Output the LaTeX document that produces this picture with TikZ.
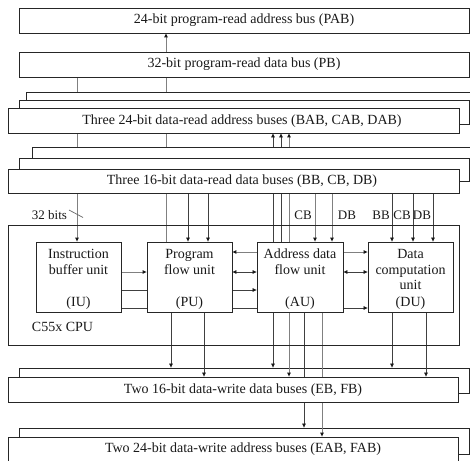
\documentclass[tikz,border=0pt]{standalone}
\usepackage{fontspec}
\setmainfont{Liberation Serif}
\usetikzlibrary{arrows.meta}
\pgfdeclarelayer{bottom}
\pgfdeclarelayer{wires}
\pgfsetlayers{bottom,wires,main}
\tikzset{
  box/.style={draw=black!85, line width=0.8pt, fill=white, inner sep=0pt},
  txt/.style={inner sep=0pt, font=\fontsize{14}{16}\selectfont, text=black!90, align=center},
  lbl/.style={inner sep=0pt, font=\fontsize{13}{15}\selectfont, text=black!90},
  wire/.style={draw=black!75, line width=0.7pt},
  gwire/.style={draw=black!50, line width=0.9pt},
  tip/.style={-{Triangle[length=4pt,width=3.5pt,color=black!90]}},
  dtip/.style={{Triangle[length=4pt,width=3.5pt,color=black!90]}-{Triangle[length=4pt,width=3.5pt,color=black!90]}},
}
\begin{document}
\begin{tikzpicture}[x=1pt,y=-1pt]
\useasboundingbox (0,0) rectangle (470,460);
\begin{pgfonlayer}{bottom}
\fill[white] (0,0) rectangle (470,460);
\end{pgfonlayer}
% column and row coordinates
\foreach \c in {77,166,171,188,204,208,273,281,289,304,315,322,332,392,413,426,433}
  \coordinate (c\c) at (\c,0);
\foreach \r in {252,272,290,308}
  \coordinate (r\r) at (0,\r);
% program buses
\node[box, minimum width=450pt, minimum height=25pt] (pab) at (244,20.5) {};
\node[txt] (pabt) at (244,20.5) {24-bit program-read address bus (PAB)};
\node[box, minimum width=450pt, minimum height=25pt] (pb) at (244,64.5) {};
\node[txt] (pbt) at (244,64.5) {32-bit program-read data bus (PB)};
% data-read address buses
\node[box, minimum width=460pt, minimum height=24pt] (ar3) at (256,104) {};
\node[box, minimum width=450pt, minimum height=24pt] (ar2) at (244,112) {};
\node[box, minimum width=451pt, minimum height=25pt] (ar1) at (233.5,120.5) {};
\node[txt] (art) at (242,121) {Three 24-bit data-read address buses (BAB, CAB, DAB)};
% data-read data buses
\node[box, minimum width=460pt, minimum height=24pt] (dr3) at (262,159) {};
\node[box, minimum width=450pt, minimum height=23pt] (dr2) at (244,169.5) {};
\node[box, minimum width=451pt, minimum height=24pt] (dr1) at (233.5,181) {};
\node[txt] (drt) at (242,181) {Three 16-bit data-read data buses (BB, CB, DB)};
% write buses
\begin{pgfonlayer}{bottom}
\node[box, minimum width=450pt, minimum height=25pt] (wd2) at (244,380.5) {};
\node[box, minimum width=450pt, minimum height=26pt] (wa2) at (244,441) {};
\end{pgfonlayer}
\node[box, minimum width=450pt, minimum height=25pt] (wd1) at (233,389.5) {};
\node[txt] (wdt) at (243,390) {Two 16-bit data-write data buses (EB, FB)};
\node[box, minimum width=450pt, minimum height=26pt] (wa1) at (233,450) {};
\node[txt] (wat) at (243,449) {Two 24-bit data-write address buses (EAB, FAB)};
% CPU
\node[draw=black!85, line width=0.8pt, inner sep=0pt, minimum width=451pt, minimum height=120pt] (cpu) at (233.5,285) {};
\node[lbl, font=\fontsize{14}{16}\selectfont] (cput) at (62.5,327) {C55x CPU};
\node[box, minimum width=85pt, minimum height=70pt] (iu) at (78.5,277) {};
\node[box, minimum width=85pt, minimum height=70pt] (pu) at (189.5,277) {};
\node[box, minimum width=86pt, minimum height=70pt] (au) at (300,277) {};
\node[box, minimum width=85pt, minimum height=70pt] (du) at (410.5,277) {};
\node[txt] (iut) at (78.5,262) {Instruction\\buffer unit};
\node[txt] (iub) at (78.5,303) {(IU)};
\node[txt] (put) at (189.5,262) {Program\\flow unit};
\node[txt] (pub) at (189.5,303) {(PU)};
\node[txt] (aut) at (300,262) {Address data\\flow unit};
\node[txt] (aub) at (300,303) {(AU)};
\node[txt, font=\fontsize{14}{15.5}\selectfont] (dut) at (410.5,269.5) {Data\\computation\\unit};
\node[txt] (dub) at (410.5,303) {(DU)};
% labels
\node[lbl] (bits) at (49.5,215) {32 bits};
\coordinate (s1) at (69,210);
\coordinate (s2) at (83,217.5);
\draw[black!60, line width=0.7pt] (s1) -- (s2);
\node[lbl] (lcb1) at (303,215) {CB};
\node[lbl] (ldb1) at (347,215) {DB};
\node[lbl] (lbb2) at (381,215) {BB};
\node[lbl] (lcb2) at (402,215) {CB};
\node[lbl] (ldb2) at (422,215) {DB};
% wires
\begin{pgfonlayer}{wires}
\draw[gwire, tip] (c77 |- pb.south) -- (c77 |- iu.north);
\draw[gwire, tip] (c166 |- pu.north) -- (c166 |- pab.south);
\draw[wire, tip] (c188 |- dr1.south) -- (c188 |- pu.north);
\draw[wire, tip] (c208 |- dr1.south) -- (c208 |- pu.north);
\draw[wire, tip] (c273 |- au.north) -- (c273 |- ar1.south);
\draw[wire, tip] (c281 |- au.north) -- (c281 |- ar1.south);
\draw[gwire, tip] (c289 |- au.north) -- (c289 |- ar1.south);
\draw[gwire, tip] (c315 |- dr1.south) -- (c315 |- au.north);
\draw[gwire, tip] (c332 |- dr1.south) -- (c332 |- au.north);
\draw[wire, tip] (c392 |- dr1.south) -- (c392 |- du.north);
\draw[wire, tip] (c413 |- dr1.south) -- (c413 |- du.north);
\draw[wire, tip] (c433 |- dr1.south) -- (c433 |- du.north);
% horizontal
\draw[gwire, tip] (au.west |- r252) -- (pu.east |- r252);
\draw[gwire, tip] (au.east |- r252) -- (du.west |- r252);
\draw[gwire, tip] (iu.east |- r272) -- (pu.west |- r272);
\draw[wire, dtip] (pu.east |- r272) -- (au.west |- r272);
\draw[wire, dtip] (au.east |- r272) -- (du.west |- r272);
\draw[wire, tip] (iu.east |- r290) -- (au.west |- r290);
\draw[wire, tip] (iu.east |- r308) -- (du.west |- r308);
% down to write buses
\draw[wire, tip] (c171 |- pu.south) -- (c171 |- wd2.north);
\draw[wire, tip] (c204 |- pu.south) -- (c204 |- wd1.north);
\draw[wire, tip] (c273 |- au.south) -- (c273 |- wd2.north);
\draw[gwire, tip] (c289 |- au.south) -- (c289 |- wd1.north);
\draw[wire, tip] (c304 |- au.south) -- (c304 |- wa2.north);
\draw[gwire, tip] (c322 |- au.south) -- (c322 |- wa1.north);
\draw[wire, tip] (c392 |- du.south) -- (c392 |- wd2.north);
\draw[wire, tip] (c426 |- du.south) -- (c426 |- wd1.north);
\end{pgfonlayer}
\end{tikzpicture}
\end{document}
